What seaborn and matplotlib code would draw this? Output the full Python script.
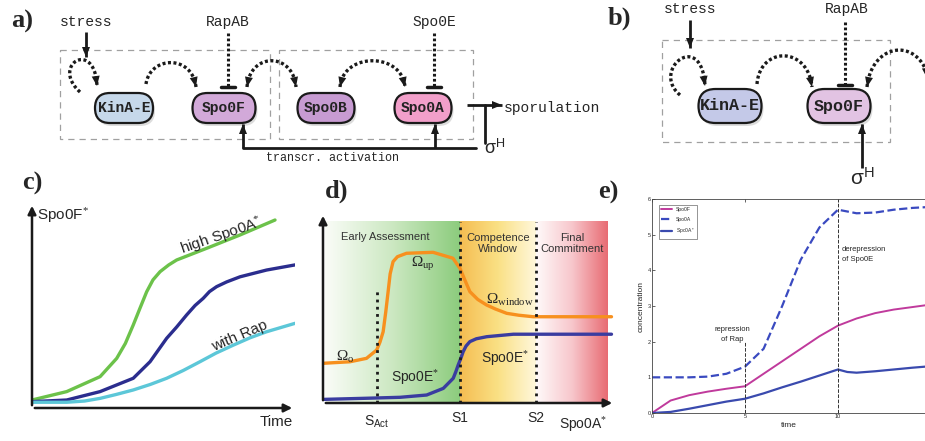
import numpy as np
import pandas as pd
import matplotlib
matplotlib.use('Agg')
import matplotlib.pyplot as plt
import seaborn as sns
from matplotlib.patches import FancyBboxPatch, Rectangle, Polygon

sns.set_theme(style='white')
plt.rcParams['font.family'] = ['Liberation Sans', 'DejaVu Sans']
plt.rcParams['mathtext.fontset'] = 'custom'
plt.rcParams['mathtext.rm'] = 'Liberation Serif'
plt.rcParams['mathtext.it'] = 'Liberation Serif:italic'
plt.rcParams['mathtext.sf'] = 'Liberation Sans'

W, H = 925, 441

# ---- diagram nodes (panels a and b)
nodes_a = ['KinA-E', 'Spo0F', 'Spo0B', 'Spo0A']
colors_a = ['#c6d8ea', '#d2a9d9', '#c79bd2', '#f29fca']
nodes_b = ['KinA-E', 'Spo0F']
colors_b = ['#c4c9e8', '#e2c3e3']

# ---- panel c: Spo0F* vs time (schematic)
c_t_high = [0, 1.32, 2.59, 3.22, 3.55, 3.85, 4.1, 4.36, 4.6, 4.87, 5.2, 5.50, 6.64, 7.91, 9.24]
c_high = [0.39, 0.80, 1.53, 2.42, 3.15, 4.05, 4.85, 5.67, 6.25, 6.65, 6.98, 7.22, 7.79, 8.44, 9.17]
c_t_mid = [0, 1.32, 2.59, 3.85, 4.49, 5.12, 5.5, 5.88, 6.2, 6.51, 6.75, 7.02, 7.4, 7.91, 8.92, 10.0]
c_mid = [0.31, 0.39, 0.80, 1.45, 2.26, 3.40, 3.95, 4.54, 5.0, 5.35, 5.68, 5.92, 6.15, 6.40, 6.73, 6.98]
c_t_rap = [0, 1.32, 2.0, 2.59, 3.2, 3.85, 4.5, 5.12, 5.75, 6.39, 7.0, 7.66, 8.3, 8.92, 10.0]
c_rap = [0.28, 0.28, 0.34, 0.47, 0.66, 0.88, 1.15, 1.45, 1.83, 2.26, 2.68, 3.07, 3.43, 3.72, 4.13]

# ---- panel d: regimes vs Spo0A*
d_x_omega = [0.01, 0.92, 1.49, 1.84, 1.95, 2.06, 2.15, 2.23, 2.30, 2.40, 2.55, 2.86, 3.77, 4.45,
             4.69, 4.85, 5.03, 5.30, 5.60, 5.90, 6.29, 6.70, 7.20, 8.33, 9.88]
d_omega = [2.09, 2.17, 2.35, 2.79, 3.20, 3.75, 4.80, 5.86, 6.80, 7.44, 7.70, 7.88, 7.93, 7.62,
           7.09, 6.50, 5.86, 5.45, 5.16, 4.95, 4.72, 4.62, 4.54, 4.54, 4.54]
d_x_spo0e = [0.01, 1.50, 2.64, 3.55, 4.12, 4.46, 4.55, 4.63, 4.72, 4.80, 4.90, 5.03, 5.25, 5.61, 6.52, 9.88]
d_spo0e = [0.19, 0.25, 0.30, 0.42, 0.77, 1.30, 1.65, 2.00, 2.35, 2.70, 3.00, 3.23, 3.38, 3.49, 3.62, 3.62]
d_thresholds = {'S$_{\\mathsf{Act}}$': 1.85, 'S1': 4.69, 'S2': 7.29}
d_end = 9.73
d_regions = ['Early Assessment', 'Competence\nWindow', 'Final\nCommitment']

# ---- panel e: simulated concentrations
e_time = [0, 1, 2, 3, 4, 5, 6, 7, 8, 9, 10, 10.5, 11, 12, 13, 14, 14.7]
e_spo0f = [0, 0.35, 0.50, 0.60, 0.68, 0.75, 1.10, 1.45, 1.80, 2.15, 2.45, 2.55, 2.65, 2.80, 2.90, 2.97, 3.02]
e_spo0a = [1.0, 1.0, 1.0, 1.02, 1.10, 1.30, 1.80, 3.00, 4.30, 5.20, 5.70, 5.65, 5.60, 5.62, 5.70, 5.75, 5.77]
e_spo0a_p = [0, 0.03, 0.12, 0.22, 0.32, 0.40, 0.55, 0.72, 0.88, 1.05, 1.22, 1.15, 1.13, 1.17, 1.22, 1.27, 1.30]


def px_rect(l, t, r, b):
    return [l / W, (H - b) / H, (r - l) / W, (b - t) / H]


def bezier(p0, p1, p2, p3, n=80):
    t = np.linspace(0, 1, n)[:, None]
    p0, p1, p2, p3 = map(np.array, (p0, p1, p2, p3))
    return (1 - t) ** 3 * p0 + 3 * (1 - t) ** 2 * t * p1 + 3 * (1 - t) * t ** 2 * p2 + t ** 3 * p3


def head(ax, tip, frm, length=10, width=8):
    tip = np.array(tip, float)
    d = tip - np.array(frm, float)
    d /= np.hypot(*d)
    n = np.array([-d[1], d[0]])
    base = tip - d * length
    ax.add_patch(Polygon([tip, base + n * width / 2, base - n * width / 2],
                         closed=True, color='k', lw=0, clip_on=True))


def dotted_arc(ax, p0, p1, p2, p3, start_head=False, end_head=True):
    pts = bezier(p0, p1, p2, p3)
    ax.plot(pts[:, 0], pts[:, 1], color='k', lw=2.4, linestyle=(0, (0.9, 0.75)),
            dash_capstyle='butt')
    if end_head:
        head(ax, pts[-1], pts[-8])
    if start_head:
        head(ax, pts[0], pts[7])


def solid_arrow(ax, p0, p1, lw=2):
    ax.plot([p0[0], p1[0]], [p0[1], p1[1]], color='k', lw=lw, solid_capstyle='butt')
    head(ax, p1, p0)


def inhibit(ax, x, y0, y1, half=7):
    ax.plot([x, x], [y0, y1], color='k', lw=2.2, linestyle=(0, (0.9, 0.75)))
    ax.plot([x - half, x + half], [y1 + 1, y1 + 1], color='k', lw=2.5)


def node(ax, cx, cy, w, h, label, color, fs):
    ax.add_patch(FancyBboxPatch((cx - w / 2 + h / 2 + 2, cy - h / 2 + 3), w - h, h,
                                boxstyle=f'round,pad=0,rounding_size={h / 2}',
                                fc='#bbbbbb', ec='none', alpha=0.5))
    ax.add_patch(FancyBboxPatch((cx - w / 2 + h / 2, cy - h / 2), w - h, h,
                                boxstyle=f'round,pad=0,rounding_size={h / 2}',
                                fc=color, ec='k', lw=1.6))
    ax.text(cx, cy, label, ha='center', va='center', fontsize=fs,
            family='Liberation Mono', weight='bold', color='#222222')


fig = plt.figure(figsize=(W / 100, H / 100), dpi=100)
ov = fig.add_axes([0, 0, 1, 1])
ov.set_xlim(0, W)
ov.set_ylim(H, 0)
ov.axis('off')

mono = dict(family='Liberation Mono', fontsize=10.5, ha='center', va='center')
dash_box = dict(fill=False, ec='#a0a0a0', lw=0.9, ls=(0, (5, 4)))

# ================= panel a =================
ov.add_patch(Rectangle((60, 50), 210, 89, **dash_box))
ov.add_patch(Rectangle((279, 50), 194, 89, **dash_box))
for (cx, w), lab, col in zip([(124, 88), (224, 93), (326, 87), (423, 87)], nodes_a, colors_a):
    node(ov, cx, 108, w, 30, lab, col, 10.5)

ov.text(86, 22, 'stress', **mono)
ov.text(228, 22, 'RapAB', **mono)
ov.text(434, 22, 'Spo0E', **mono)
solid_arrow(ov, (86, 32), (86, 57))
dotted_arc(ov, (80, 92), (50, 65), (95, 38), (97, 86))
dotted_arc(ov, (146, 84), (150, 56), (192, 54), (196, 87))
dotted_arc(ov, (247, 87), (250, 52), (293, 52), (296, 87), start_head=True)
dotted_arc(ov, (340, 87), (343, 52), (402, 52), (405, 87), start_head=True)
inhibit(ov, 228, 33, 86)
inhibit(ov, 434, 33, 86)

ov.plot([476, 243], [148, 148], color='k', lw=2)
solid_arrow(ov, (243, 148), (243, 124))
solid_arrow(ov, (435, 148), (435, 124))
ov.plot([485, 485], [143, 105], color='k', lw=2)
solid_arrow(ov, (467, 105), (502, 105))
ov.text(504, 108, 'sporulation', family='Liberation Mono', fontsize=10.5, ha='left', va='center')
ov.text(333, 158, 'transcr. activation', family='Liberation Mono', fontsize=8.5, ha='center', va='center')
ov.text(495, 148, 'σ$^{\\mathsf{H}}$', fontsize=13, ha='center', va='center')

# ================= panel b =================
ov.add_patch(Rectangle((662, 40), 228, 102, **dash_box))
for cx, lab, col in zip([730, 839], nodes_b, colors_b):
    node(ov, cx, 106, 97, 34, lab, col, 12)
ov.text(690, 9, 'stress', **mono)
ov.text(847, 9, 'RapAB', **mono)
solid_arrow(ov, (690, 20), (690, 48))
dotted_arc(ov, (680, 95), (650, 70), (702, 28), (705, 86))
dotted_arc(ov, (757, 84), (760, 46), (808, 46), (812, 87))
dotted_arc(ov, (867, 87), (872, 40), (924, 36), (930, 86), start_head=True, end_head=False)
head(ov, (927, 78), (925, 60))
inhibit(ov, 845, 22, 84)
solid_arrow(ov, (862, 168), (862, 124))
ov.text(862, 178, 'σ$^{\\mathsf{H}}$', fontsize=15, ha='center', va='center')

# panel letters
for lab, (x, y) in zip(['a)', 'b)', 'c)', 'd)', 'e)'],
                       [(22, 21), (619, 18), (32, 183), (337, 191), (608, 192)]):
    ov.text(x, y, lab, family='Liberation Serif', weight='bold', fontsize=19,
            ha='center', va='center')

# ================= panel c =================
axc = fig.add_axes(px_rect(32, 203, 295, 408))
axc.set_facecolor('none')
sns.lineplot(x=c_t_high, y=c_high, ax=axc, color='#6cc24a', lw=2.4)
sns.lineplot(x=c_t_mid, y=c_mid, ax=axc, color='#2b2d8e', lw=2.4)
sns.lineplot(x=c_t_rap, y=c_rap, ax=axc, color='#5cc7d8', lw=2.4)
axc.set_xlim(0, 10)
axc.set_ylim(0, 10)
for s in axc.spines.values():
    s.set_visible(False)
axc.set_xticks([])
axc.set_yticks([])
axc.annotate('', xy=(1, 0), xytext=(0, 0), xycoords='axes fraction',
             arrowprops=dict(arrowstyle='-|>', lw=1.8, color='k', mutation_scale=12))
axc.annotate('', xy=(0, 1), xytext=(0, 0), xycoords='axes fraction',
             arrowprops=dict(arrowstyle='-|>', lw=1.8, color='k', mutation_scale=12))
axc.text(0.2, 9.4, 'Spo0F$^{*}$', fontsize=11, ha='left', va='center')
axc.text(9.3, -0.7, 'Time', fontsize=11, ha='center', va='center')
axc.text(7.2, 8.4, 'high Spo0A$^{*}$', fontsize=11, ha='center', va='center', rotation=19)
axc.text(7.9, 3.5, 'with Rap', fontsize=11, ha='center', va='center', rotation=23)

# ================= panel d =================
axd = fig.add_axes(px_rect(323, 213, 615, 403))
axd.set_facecolor('none')
top = 9.53
s_act, s1, s2 = d_thresholds.values()


def gradient(ax, x0, x1, stops):
    xs = np.linspace(0, 1, 200)
    cols = np.array([np.interp(xs, np.linspace(0, 1, len(stops)), [c[i] for c in stops])
                     for i in range(3)]).T
    ax.imshow(cols[None, :, :], extent=(x0, x1, 0, top), aspect='auto', zorder=0)


gradient(axd, 0.07, s1, [(0.98, 0.99, 0.97), (0.80, 0.91, 0.76), (0.55, 0.80, 0.49)])
gradient(axd, s1, s2, [(0.96, 0.74, 0.32), (0.98, 0.88, 0.52), (1.0, 0.97, 0.86)])
gradient(axd, s2, d_end, [(1.0, 0.98, 0.98), (0.97, 0.78, 0.80), (0.91, 0.42, 0.45)])

sns.lineplot(x=d_x_omega, y=d_omega, ax=axd, color='#f7901e', lw=2.4, zorder=3)
sns.lineplot(x=d_x_spo0e, y=d_spo0e, ax=axd, color='#3a3ca0', lw=2.4, zorder=3)
axd.vlines([s1, s2], 0, top, colors='k', lw=2, linestyles=[(0, (1, 1.6))], zorder=4)
axd.vlines([s_act], 0, 6.05, colors='k', lw=2, linestyles=[(0, (1, 1.6))], zorder=4)
axd.set_xlim(0, 10)
axd.set_ylim(0, 10)
for s in axd.spines.values():
    s.set_visible(False)
axd.set_xticks([])
axd.set_yticks([])
axd.annotate('', xy=(1, 0), xytext=(0, 0), xycoords='axes fraction',
             arrowprops=dict(arrowstyle='-|>', lw=1.8, color='k', mutation_scale=12), zorder=5)
axd.annotate('', xy=(0, 1), xytext=(0, 0), xycoords='axes fraction',
             arrowprops=dict(arrowstyle='-|>', lw=1.8, color='k', mutation_scale=12), zorder=5)
for (lab, xv), dy in zip(d_thresholds.items(), [-1.0, -0.8, -0.8]):
    axd.text(xv, dy, lab, fontsize=10, ha='center', va='center')
axd.text(8.9, -1.15, 'Spo0A$^{*}$', fontsize=10, ha='center', va='center')
for lab, xc, yc in zip(d_regions, [2.13, 5.99, 8.52], [8.75, 8.4, 8.4]):
    axd.text(xc, yc, lab, fontsize=8, ha='center', va='center', color='#333333', linespacing=1.15)
axd.text(3.43, 7.3, r'$\Omega_{\mathrm{up}}$', fontsize=11, ha='center', va='center')
axd.text(6.4, 5.45, r'$\Omega_{\mathrm{window}}$', fontsize=11, ha='center', va='center')
axd.text(0.75, 2.4, r'$\Omega_{\mathrm{o}}$', fontsize=11, ha='center', va='center')
axd.text(3.15, 1.35, 'Spo0E$^{*}$', fontsize=10, ha='center', va='center')
axd.text(6.25, 2.35, 'Spo0E$^{*}$', fontsize=10, ha='center', va='center')

# ================= panel e =================
axe = fig.add_axes(px_rect(652, 199, 925, 413))
narrow = ['Liberation Sans Narrow', 'Liberation Sans', 'DejaVu Sans']
sns.lineplot(x=e_time, y=e_spo0f, ax=axe, color='#c03a9c', lw=1.4, label='Spo0F')
sns.lineplot(x=e_time, y=e_spo0a, ax=axe, color='#3a4ac0', lw=1.6, linestyle='--', label='Spo0A')
sns.lineplot(x=e_time, y=e_spo0a_p, ax=axe, color='#3a4aae', lw=1.6, label='Spo0A$^{*}$')
axe.vlines(5, 0, 2.0, colors='#333333', lw=0.7, linestyles='--')
axe.vlines(10, 0, 6, colors='#333333', lw=0.7, linestyles='--')
axe.set_xlim(0, 14.68)
axe.set_ylim(0, 6)
axe.set_xticks([0, 5, 10])
axe.set_yticks(range(7))
axe.tick_params(direction='in', length=2, width=0.5, labelsize=4, pad=1,
                bottom=True, left=True, top=True)
for k in ['left', 'bottom', 'top']:
    axe.spines[k].set_linewidth(0.6)
    axe.spines[k].set_color('#444444')
axe.spines['right'].set_visible(False)
axe.set_xlabel('time', fontsize=6, labelpad=2, family=narrow)
axe.set_ylabel('concentration', fontsize=6, labelpad=2, family=narrow)
axe.text(4.3, 2.2, 'repression\nof Rap', fontsize=5.5, ha='center', va='center',
         family=narrow, linespacing=1.6)
axe.text(10.2, 4.45, 'derepression\nof Spo0E', fontsize=5.5, ha='left', va='center',
         family=narrow, linespacing=1.6)
leg = axe.legend(loc='upper left', bbox_to_anchor=(0.015, 0.985), fontsize=3.6,
                 handlelength=2.2, labelspacing=0.9, borderpad=0.5, fancybox=False,
                 edgecolor='#444444', framealpha=1)
leg.get_frame().set_linewidth(0.4)

fig.savefig('out.png', dpi=100)
